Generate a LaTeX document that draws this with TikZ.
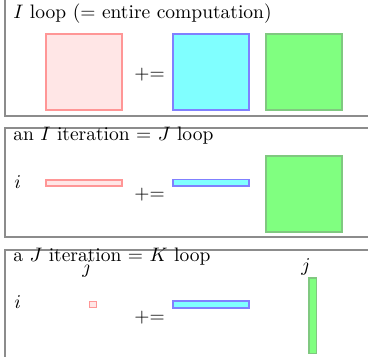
\documentclass[tikz,border=0pt]{standalone}
\usepackage{tikz}
\usetikzlibrary{positioning}
\definecolor{cmatline}{RGB}{255,150,150}
\definecolor{cmatfill}{RGB}{255,230,230}
\definecolor{amatline}{RGB}{128,128,255}
\definecolor{amatfill}{RGB}{128,255,255}
\definecolor{bmatline}{RGB}{128,200,128}
\definecolor{bmatfill}{RGB}{128,255,128}
\definecolor{frameline}{RGB}{140,140,140}

\begin{document}
\begin{tikzpicture}[
    x=0.5128pt, y=-0.5128pt,
    frame/.style={draw=frameline, line width=0.55pt},
    title/.style={anchor=base west, inner sep=0pt},
    lbl/.style={anchor=base, inner sep=0pt},
    cmat/.style={draw=cmatline, fill=cmatfill, line width=0.6pt},
    amat/.style={draw=amatline, fill=amatfill, line width=0.6pt},
    bmat/.style={draw=bmatline, fill=bmatfill, line width=0.6pt}
]
\useasboundingbox (0,0) rectangle (368,357);
\clip (0,0) rectangle (368,357);

% I loop
\draw[frame] (5,-10) rectangle (420,116);
\node[title] (t1) at (13,18) {$I$ loop (= entire computation)};
\draw[cmat] (46,34) rectangle (122,110);
\node[title] (pe1) at (134,79) {+=};
\draw[amat] (173,34) rectangle (249,110);
\draw[bmat] (266,34) rectangle (342,110);

% I iteration
\draw[frame] (5,128) rectangle (420,237);
\node[title] (t2) at (13,140) {an $I$ iteration = $J$ loop};
\node[title] (i2) at (14,188) {$i$};
\draw[cmat] (46,180) rectangle (122,186);
\node[title] (pe2) at (134,199) {+=};
\draw[amat] (173,179.5) rectangle (249,186);
\draw[bmat] (266,156) rectangle (342,232);

% J iteration
\draw[frame] (5,250) rectangle (420,400);
\node[title] (t3) at (13,261.5) {a $J$ iteration = $K$ loop};
\node[title] (i3) at (14,308) {$i$};
\node[lbl] (j3) at (87,273) {$j$};
\draw[cmat] (89.5,301.5) rectangle (96.5,307.5);
\node[title] (pe3) at (134,322) {+=};
\draw[amat] (173,301) rectangle (249,308);
\node[lbl] (jb) at (306,271) {$j$};
\draw[bmat] (309,278) rectangle (316.5,353.5);
\end{tikzpicture}
\end{document}
